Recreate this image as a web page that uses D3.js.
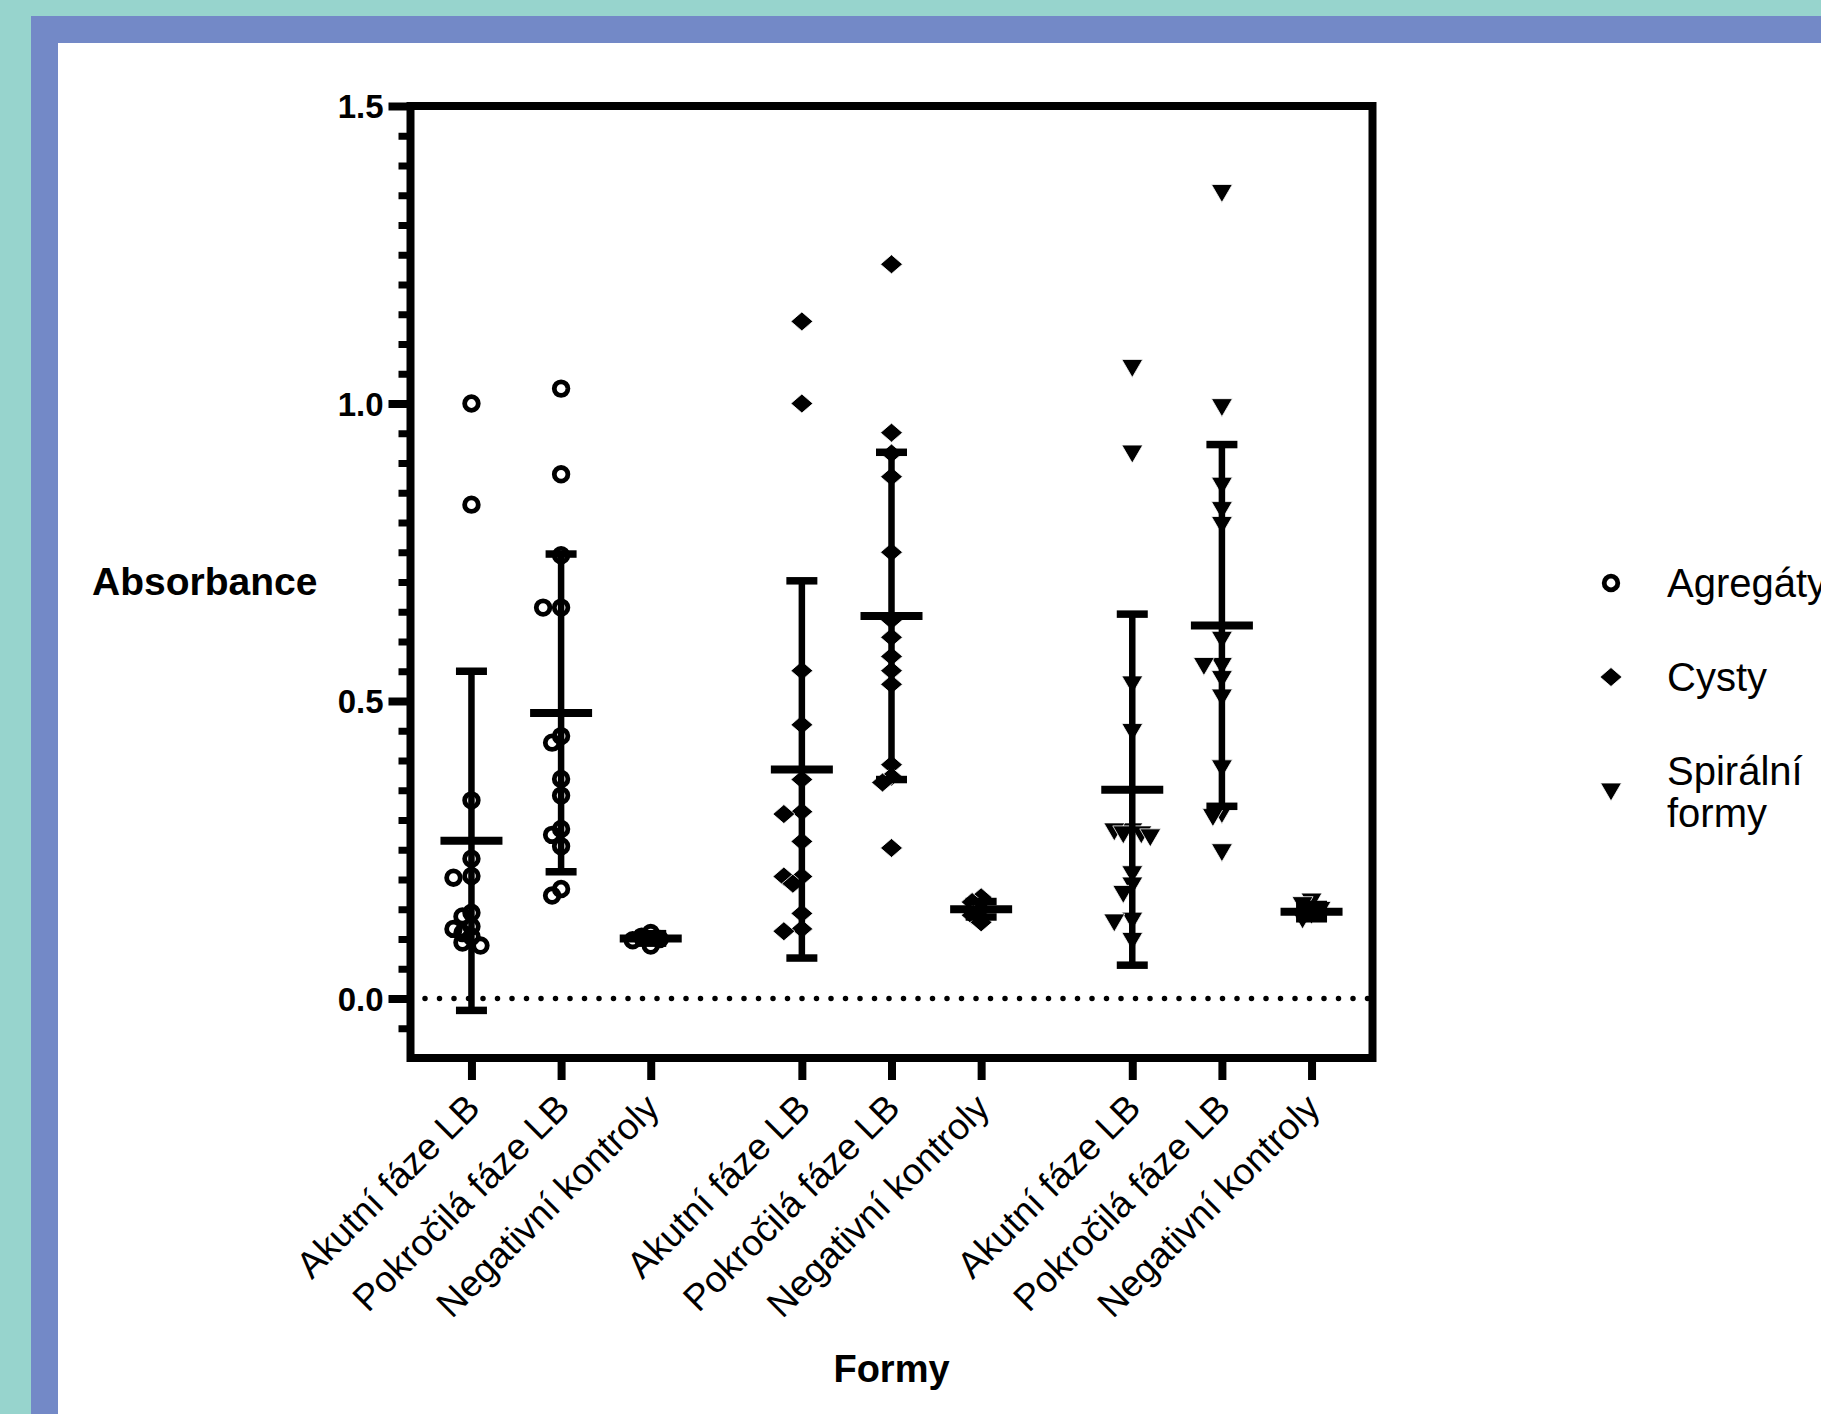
<!DOCTYPE html>
<html>
<head>
<meta charset="utf-8">
<script src="https://cdn.jsdelivr.net/npm/d3@7"></script>
<style>
  html, body { margin: 0; padding: 0; background: #97d4cd; overflow: hidden; }
  svg { display: block; }
  text { font-family: 'Liberation Sans', Arial, sans-serif; fill: #000; }
</style>
</head>
<body>
<svg id="chart" width="1821" height="1414"></svg>
<script>
'use strict';

// values
const forms      = [ 'Agregáty', 'Cysty', 'Spirální formy' ];
const categories = [ 'Akutní fáze LB', 'Pokročilá fáze LB', 'Negativní kontroly' ];

const agregaty = [
  [ 1.00, 0.83, 0.333, 0.235, 0.206, 0.203, 0.144, 0.138, 0.121, 0.117, 0.110, 0.104, 0.094, 0.089 ],
  [ 1.025, 0.881, 0.745, 0.657, 0.657, 0.441, 0.430, 0.369, 0.341, 0.285, 0.275, 0.256, 0.184, 0.173 ],
  [ 0.110, 0.104, 0.100, 0.098, 0.089 ]
];
const cysty = [
  [ 1.138, 1.00, 0.551, 0.460, 0.368, 0.314, 0.310, 0.264, 0.205, 0.205, 0.193, 0.143, 0.117, 0.113 ],
  [ 1.234, 0.951, 0.916, 0.877, 0.750, 0.636, 0.607, 0.575, 0.551, 0.528, 0.393, 0.373, 0.363, 0.253 ],
  [ 0.170, 0.162, 0.150, 0.140, 0.128 ]
];
const spiralni = [
  [ 1.059, 0.915, 0.527, 0.447, 0.280, 0.280, 0.275, 0.275, 0.270, 0.208, 0.189, 0.175, 0.130, 0.127, 0.096 ],
  [ 1.353, 0.993, 0.861, 0.820, 0.795, 0.602, 0.558, 0.558, 0.536, 0.505, 0.386, 0.309, 0.304, 0.245 ],
  [ 0.162, 0.156, 0.148, 0.140, 0.132 ]
];

// mean and SD bars as drawn in the figure
const means = [ 0.265, 0.480, 0.101, 0.385, 0.643, 0.150, 0.351, 0.627, 0.146 ];
const sds   = [ 0.285, 0.267, 0.008, 0.317, 0.275, 0.013, 0.295, 0.304, 0.012 ];

const yTicks = [ 0.0, 0.5, 1.0, 1.5 ];
const yTitle = 'Absorbance',
      xTitle = 'Formy';

// ---------------------------------------------------------------

const W = 1821, H = 1414;
const frame = { left: 410.5, right: 1372.5, top: 106, bottom: 1058 };
const groupGap = 0.686;

const series = [ agregaty, cysty, spiralni ];
const columns = [];
forms.forEach( (f, g) => {
  categories.forEach( (c, i) => {
    columns.push({
      form: f, g: g, cat: c,
      values: series[g][i],
      pos: g * categories.length + i + g * groupGap
    });
  });
});
columns.forEach( (col, k) => { col.mean = means[k]; col.sd = sds[k]; } );

const x = d3.scaleLinear()
            .domain( [ -0.68, columns[ columns.length - 1 ].pos + 0.68 ] )
            .range( [ frame.left, frame.right ] );
const y = d3.scaleLinear()
            .domain( [ -0.1, 1.5 ] )
            .range( [ frame.bottom, frame.top ] );

// marker shapes
const diamond = {
  draw: function( ctx, size ) {
    const w = 11, h = 9.5;
    ctx.moveTo( 0, -h ); ctx.lineTo( w, 0 ); ctx.lineTo( 0, h ); ctx.lineTo( -w, 0 ); ctx.closePath();
  }
};
const triangleDown = {
  draw: function( ctx, size ) {
    const w = 10.5, h = 9;
    ctx.moveTo( -w, -h ); ctx.lineTo( w, -h ); ctx.lineTo( 0, h ); ctx.closePath();
  }
};
const markerStyle = [
  { path: d3.symbol( d3.symbolCircle, Math.PI * 6.8 * 6.8 )(), fill: 'none',  stroke: '#000', width: 4.8 },
  { path: d3.symbol( diamond )(),                            fill: '#000',  stroke: '#fff', width: 0.8 },
  { path: d3.symbol( triangleDown )(),                       fill: '#000',  stroke: '#fff', width: 0.8 }
];

// spread overlapping points sideways (simple beeswarm)
function swarm( values ) {
  const step = 9, minD = 9.4, placed = [];
  return values.slice().sort( (a, b) => b - a ).map( (v) => {
    const py = y( v );
    let off = 0;
    for( let k = 0; k < 40; k++ ) {
      off = (k === 0) ? 0 : ((k % 2) ? -1 : 1) * Math.ceil( k / 2 ) * step;
      if( placed.every( (p) => Math.hypot( p.dx - off, p.py - py ) >= minD ) ) { break; }
    }
    placed.push( { dx: off, py: py } );
    return { v: v, dx: off };
  });
}

const svg = d3.select( '#chart' );

// background frame
svg.append( 'rect' ).attr( 'x', 31 ).attr( 'y', 16 ).attr( 'width', W ).attr( 'height', H ).attr( 'fill', '#7389c7' );
svg.append( 'rect' ).attr( 'x', 58 ).attr( 'y', 43 ).attr( 'width', W ).attr( 'height', H ).attr( 'fill', '#ffffff' );

// y-axis: major ticks
const gy = svg.append( 'g' )
              .attr( 'transform', `translate(${frame.left},0)` )
              .call( d3.axisLeft( y ).tickValues( yTicks ).tickFormat( d3.format( '.1f' ) ).tickSize( 22 ).tickPadding( 5 ) );
gy.select( '.domain' ).remove();
gy.selectAll( 'line' ).attr( 'stroke', '#000' ).attr( 'stroke-width', 8 );
gy.selectAll( 'text' )
    .style( 'font-family', "'Liberation Sans', Arial, sans-serif" )
    .style( 'font-size', '33px' )
    .style( 'font-weight', 'bold' )
    .attr( 'dy', '0.36em' );

// y-axis: minor ticks
const minor = d3.range( -1, 30 ).map( (k) => +(k * 0.05).toFixed( 2 ) )
                .filter( (v) => !yTicks.some( (t) => Math.abs( t - v ) < 1e-6 ) );
const gm = svg.append( 'g' )
              .attr( 'transform', `translate(${frame.left},0)` )
              .call( d3.axisLeft( y ).tickValues( minor ).tickFormat( '' ).tickSize( 12 ) );
gm.select( '.domain' ).remove();
gm.selectAll( 'line' ).attr( 'stroke', '#000' ).attr( 'stroke-width', 7 );

// x-axis
const gx = svg.append( 'g' )
              .attr( 'transform', `translate(0,${frame.bottom})` )
              .call( d3.axisBottom( x ).tickValues( columns.map( (c) => c.pos ) )
                       .tickFormat( (d, i) => columns[i].cat ).tickSize( 22 ) );
gx.select( '.domain' ).remove();
gx.selectAll( 'line' ).attr( 'stroke', '#000' ).attr( 'stroke-width', 8 );
gx.selectAll( 'text' )
    .style( 'font-family', "'Liberation Sans', Arial, sans-serif" )
    .style( 'font-size', '37px' )
    .style( 'text-anchor', 'end' )
    .attr( 'x', 0 ).attr( 'y', 0 ).attr( 'dy', 0 )
    .attr( 'transform', 'translate(10,52) rotate(-45)' );

// plot frame
svg.append( 'rect' )
    .attr( 'x', frame.left ).attr( 'y', frame.top )
    .attr( 'width', frame.right - frame.left ).attr( 'height', frame.bottom - frame.top )
    .attr( 'fill', 'none' ).attr( 'stroke', '#000' ).attr( 'stroke-width', 8 );

// dotted zero line
svg.append( 'line' )
    .attr( 'x1', frame.left + 14.5 ).attr( 'x2', frame.right - 4 )
    .attr( 'y1', y( 0 ) ).attr( 'y2', y( 0 ) )
    .attr( 'stroke', '#000' ).attr( 'stroke-width', 5.5 )
    .attr( 'stroke-linecap', 'round' ).attr( 'stroke-dasharray', '0 14.5' );

// points
const colG = svg.append( 'g' ).attr( 'class', 'columns' )
                .selectAll( 'g' ).data( columns )
                .enter().append( 'g' )
                  .attr( 'transform', (d) => `translate(${x( d.pos )},0)` );

colG.selectAll( 'path.marker' )
    .data( (d) => swarm( d.values ).map( (p) => Object.assign( p, { g: d.g } ) ) )
    .enter().append( 'path' )
      .attr( 'class', 'marker' )
      .attr( 'd', (d) => markerStyle[ d.g ].path )
      .attr( 'transform', (d) => `translate(${d.dx},${y( d.v )})` )
      .attr( 'fill', (d) => markerStyle[ d.g ].fill )
      .attr( 'stroke', (d) => markerStyle[ d.g ].stroke )
      .attr( 'stroke-width', (d) => markerStyle[ d.g ].width );

// mean and SD
colG.append( 'line' )
    .attr( 'x1', 0 ).attr( 'x2', 0 )
    .attr( 'y1', (d) => y( d.mean + d.sd ) ).attr( 'y2', (d) => y( d.mean - d.sd ) )
    .attr( 'stroke', '#000' ).attr( 'stroke-width', 6.5 );
[ 1, -1 ].forEach( (s) => {
  colG.append( 'line' )
      .attr( 'x1', -15.5 ).attr( 'x2', 15.5 )
      .attr( 'y1', (d) => y( d.mean + s * d.sd ) ).attr( 'y2', (d) => y( d.mean + s * d.sd ) )
      .attr( 'stroke', '#000' ).attr( 'stroke-width', 7.5 );
});
colG.append( 'line' )
    .attr( 'x1', -31 ).attr( 'x2', 31 )
    .attr( 'y1', (d) => y( d.mean ) ).attr( 'y2', (d) => y( d.mean ) )
    .attr( 'stroke', '#000' ).attr( 'stroke-width', 8 );

// axis titles
svg.append( 'text' )
    .attr( 'x', 92 ).attr( 'y', 595 )
    .style( 'font-size', '39px' ).style( 'font-weight', 'bold' )
    .text( yTitle );
svg.append( 'text' )
    .attr( 'x', (frame.left + frame.right) / 2 ).attr( 'y', 1382 )
    .style( 'font-size', '38px' ).style( 'font-weight', 'bold' ).style( 'text-anchor', 'middle' )
    .text( xTitle );

// legend
const lineH = 42;
let ly = 583;
const legend = svg.append( 'g' ).attr( 'class', 'legend' );
forms.forEach( (f, i) => {
  const lines = f.split( ' ' ),
        cy    = ly + (lines.length - 1) * lineH / 2;
  legend.append( 'path' )
      .attr( 'd', markerStyle[i].path )
      .attr( 'transform', `translate(1611,${cy})` )
      .attr( 'fill', markerStyle[i].fill )
      .attr( 'stroke', markerStyle[i].stroke )
      .attr( 'stroke-width', markerStyle[i].width );
  const t = legend.append( 'text' )
      .attr( 'x', 1667 )
      .style( 'font-size', '40px' );
  lines.forEach( (l, k) => {
    t.append( 'tspan' )
        .attr( 'x', 1667 )
        .attr( 'y', cy + 14 - (lines.length - 1) * lineH / 2 + k * lineH )
        .text( l );
  });
  ly = cy + (lines.length - 1) * lineH / 2 + 94;
});
</script>
</body>
</html>
